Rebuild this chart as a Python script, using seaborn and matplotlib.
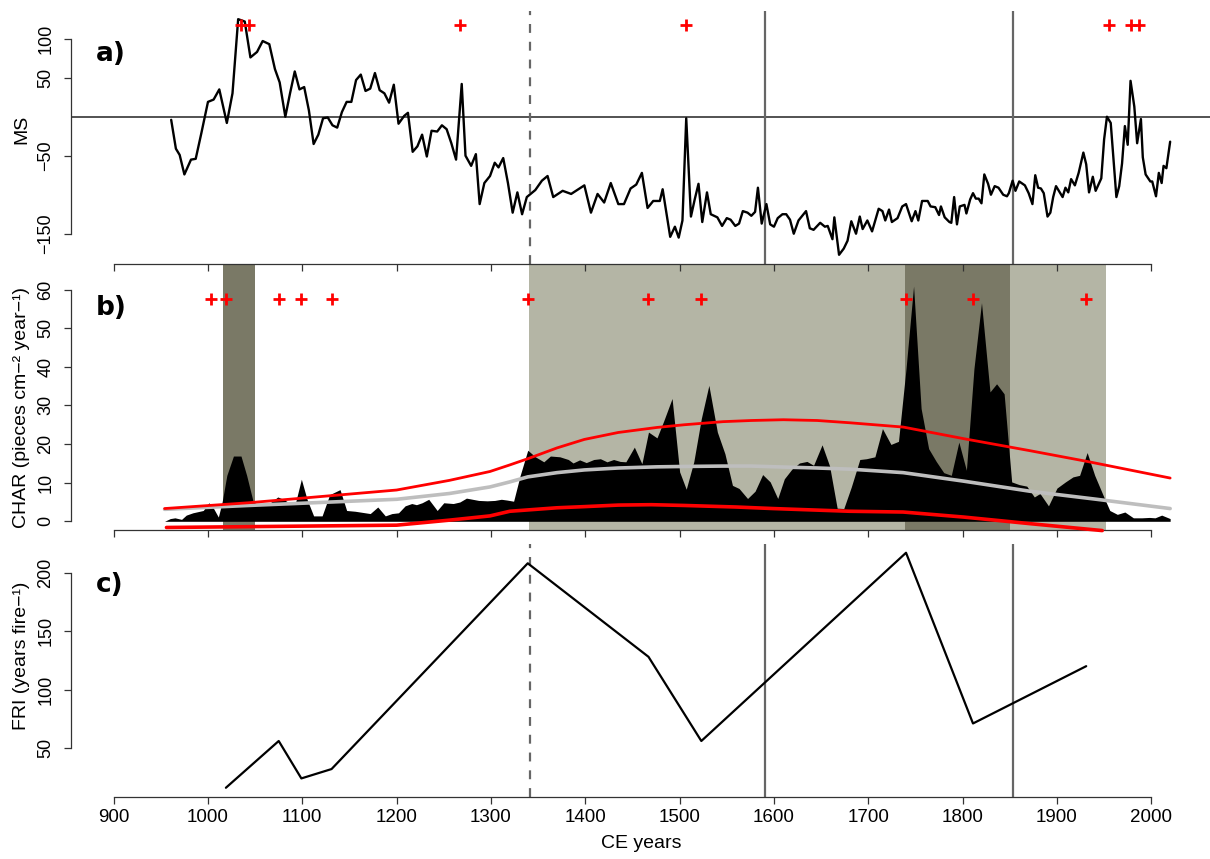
import numpy as np
import matplotlib
matplotlib.use("Agg")
import matplotlib.pyplot as plt
import seaborn as sns

# ---- panel a: magnetic susceptibility (MS) ----
ms_year = [961, 966, 970, 975, 982, 987, 993, 1000, 1006, 1012, 1020, 1026, 1032, 1039, 1045,
           1052, 1058, 1065, 1071, 1076, 1082, 1087, 1092, 1097, 1102, 1107, 1112, 1117, 1122,
           1127, 1132, 1137, 1142, 1147, 1152, 1157, 1162, 1167, 1172, 1177, 1182, 1187, 1192,
           1197, 1202, 1208, 1212, 1217, 1222, 1227, 1232, 1237, 1243, 1248, 1253, 1258, 1263,
           1269, 1273, 1279, 1284, 1288, 1293, 1299, 1304, 1308, 1313, 1318, 1323, 1328, 1333,
           1338, 1341, 1347, 1354, 1360, 1366, 1376, 1385, 1399, 1406, 1413, 1420, 1427, 1435,
           1441, 1448, 1454, 1460, 1466, 1472, 1479, 1482, 1490, 1495, 1499, 1503, 1507, 1512,
           1516, 1520, 1524, 1529, 1533, 1540, 1545, 1550, 1554, 1559, 1563, 1567, 1572, 1576,
           1580, 1583, 1587, 1592, 1596, 1600, 1604, 1609, 1613, 1617, 1621, 1626, 1634, 1638,
           1642, 1649, 1654, 1657, 1662, 1664, 1669, 1674, 1678, 1682, 1687, 1691, 1694, 1699,
           1704, 1711, 1715, 1718, 1722, 1725, 1731, 1736, 1740, 1746, 1750, 1753, 1757, 1763,
           1766, 1771, 1775, 1777, 1781, 1786, 1788, 1791, 1794, 1797, 1802, 1804, 1808, 1811,
           1814, 1817, 1820, 1823, 1827, 1830, 1834, 1838, 1843, 1847, 1849, 1853, 1856, 1860,
           1866, 1870, 1874, 1877, 1880, 1883, 1886, 1890, 1893, 1896, 1899, 1903, 1906, 1909,
           1912, 1915, 1919, 1923, 1928, 1931, 1934, 1938, 1941, 1947, 1950, 1953, 1957, 1963,
           1966, 1969, 1972, 1975, 1978, 1982, 1985, 1989, 1991, 1994, 1999, 2001, 2005, 2008,
           2011, 2013, 2016, 2020]
ms_val = [-4, -41, -49, -74, -55, -54, -21, 19, 22, 35, -8, 30, 125, 122, 76,
          83, 97, 93, 61, 44, 0, 30, 58, 35, 38, 8, -35, -23, -2,
          -1, -11, -14, 6, 19, 19, 47, 54, 33, 36, 56, 34, 30, 18,
          41, -9, 1, 5, -45, -38, -23, -51, -18, -19, -11, -16, -34, -55,
          42, -50, -63, -48, -112, -85, -76, -59, -65, -53, -85, -123, -97, -125,
          -103, -100, -94, -82, -76, -103, -95, -99, -88, -123, -99, -110, -85, -112,
          -112, -92, -87, -72, -117, -108, -108, -93, -154, -141, -155, -133, -2, -128,
          -106, -86, -135, -97, -125, -129, -140, -130, -132, -140, -137, -121, -123, -127,
          -122, -91, -137, -112, -138, -141, -130, -125, -125, -132, -150, -133, -121, -143,
          -145, -136, -141, -140, -157, -129, -177, -169, -159, -134, -150, -128, -144, -133,
          -147, -118, -121, -133, -119, -135, -130, -115, -112, -134, -121, -133, -108, -108,
          -115, -116, -126, -115, -129, -135, -136, -103, -138, -115, -113, -124, -106, -98,
          -105, -105, -111, -74, -86, -100, -89, -91, -100, -102, -98, -82, -95, -83,
          -88, -98, -112, -75, -91, -92, -98, -128, -123, -103, -89, -97, -103, -91,
          -97, -80, -88, -72, -46, -61, -97, -77, -95, -79, -29, 0, -8, -103,
          -89, -60, -12, -36, 46, 13, -34, -3, -52, -74, -83, -83, -102, -72,
          -85, -63, -66, -32]
ms_peaks = [1035, 1043, 1267, 1507, 1955, 1978, 1987]

# ---- panel b: charcoal accumulation rate (CHAR) ----
char_year = [954, 960, 965, 972, 977, 984, 995, 1001, 1006, 1011, 1015, 1020, 1027, 1035, 1041,
             1048, 1055, 1066, 1074, 1080, 1086, 1093, 1099, 1105, 1112, 1121, 1129, 1140, 1147,
             1156, 1172, 1180, 1188, 1195, 1202, 1209, 1216, 1221, 1227, 1234, 1243, 1250, 1260,
             1267, 1274, 1287, 1296, 1304, 1311, 1317, 1324, 1331, 1339, 1347, 1356, 1363, 1373,
             1382, 1387, 1394, 1401, 1409, 1416, 1423, 1430, 1437, 1443, 1452, 1460, 1467, 1476,
             1483, 1492, 1500, 1507, 1515, 1523, 1531, 1540, 1548, 1556, 1563, 1572, 1580, 1588,
             1596, 1604, 1611, 1619, 1627, 1635, 1642, 1651, 1659, 1667, 1674, 1682, 1691, 1698,
             1707, 1715, 1724, 1732, 1740, 1748, 1756, 1764, 1772, 1780, 1788, 1796, 1804, 1812,
             1820, 1829, 1836, 1844, 1852, 1860, 1868, 1876, 1882, 1891, 1900, 1909, 1917, 1924,
             1932, 1940, 1949, 1956, 1964, 1972, 1981, 1990, 1998, 2004, 2011, 2020]
char_val = [0, 0.7, 0.9, 0.5, 1.6, 2.2, 2.8, 4.8, 3.3, 1.1, 5, 11.9, 16.9, 16.9, 11.9,
            5, 4.1, 4.8, 6.3, 5.7, 4.8, 5, 10.9, 5.7, 1.4, 1.4, 6.9, 8.2, 2.8,
            2.6, 2, 3.7, 1.4, 2, 2.2, 4, 4.6, 4.3, 4.8, 5.7, 2.8, 4.8, 4.6,
            5, 6, 5.4, 5.3, 5.4, 5.7, 5.5, 5.2, 11.9, 18.4, 16.7, 15.4, 16.9, 16.7,
            16, 15.1, 15.9, 15.2, 16, 16.2, 15.4, 16, 15.5, 15.4, 19.2, 14.9, 23.1, 21.6,
            25.9, 31.8, 12.8, 8.3, 15.4, 26.6, 35.2, 23.1, 17.5, 9.3, 8.5, 5.9, 7.8, 12.1,
            10.2, 5.9, 11, 13.5, 15.1, 15.5, 14.5, 19.8, 14.3, 3.4, 3.3, 8.9, 16, 16.2,
            16.7, 24, 19.9, 20.7, 39.5, 60.9, 29.2, 18.8, 15.5, 12.6, 11.9, 20.5, 13.2, 39.5,
            56.6, 33.5, 35.6, 33, 10.2, 9.5, 9.1, 6.3, 7.2, 4, 8.6, 10.2, 11.5, 11.9,
            17.8, 11.9, 6.7, 2.8, 1.8, 2.4, 0.9, 0.9, 1, 0.9, 1.6, 0.7]

bkg_year = [954, 1043, 1200, 1256, 1299, 1320, 1339, 1370, 1399, 1435, 1476, 1505, 1546, 1576,
            1617, 1646, 1681, 1737, 1801, 1871, 1942, 2020]
bkg_val = [3.1, 4.1, 5.7, 7.2, 8.9, 10.2, 11.5, 12.6, 13.3, 13.8, 14.1, 14.2, 14.3, 14.3,
           14.0, 13.8, 13.5, 12.6, 10.4, 7.8, 5.7, 3.3]
upper_year = [954, 1043, 1200, 1256, 1299, 1320, 1339, 1370, 1399, 1435, 1476, 1505, 1546,
              1576, 1610, 1646, 1681, 1737, 1801, 1871, 1932, 2020]
upper_val = [3.3, 4.8, 8.1, 10.6, 12.9, 14.6, 16.2, 19.0, 21.2, 23.0, 24.3, 25.0, 25.8,
             26.1, 26.3, 26.1, 25.5, 24.4, 21.4, 18.3, 15.5, 11.2]
lower_year = [956, 1200, 1256, 1299, 1320, 1370, 1399, 1435, 1470, 1505, 1560, 1599, 1680,
              1737, 1801, 1871, 1948]
lower_val = [-1.6, -1.0, 0.3, 1.4, 2.6, 3.5, 3.8, 4.2, 4.3, 4.1, 3.7, 3.3, 2.6,
             2.4, 1.1, -0.6, -2.4]

fire_years = [1003, 1019, 1075, 1099, 1131, 1339, 1467, 1523, 1740, 1811, 1931]
dark_periods = [(1016, 1050), (1739, 1850)]
light_period = (1340, 1952)

# ---- panel c: fire return interval (FRI) ----
fri_year = [1019, 1075, 1099, 1131, 1339, 1467, 1523, 1740, 1811, 1931]
fri_val = [16, 56, 24, 32, 208, 128, 56, 217, 71, 120]

dashed_year = 1341
solid_years = [1590, 1853]

# ---------------------------------------------------------------
sns.set_theme(style="white")
plt.rcParams["font.family"] = ["Liberation Sans", "DejaVu Sans"]
plt.rcParams["text.color"] = "black"

AXC = "#333333"
XLIM = (854.8, 2063.3)
fig = plt.figure(figsize=(12.1, 8.59), dpi=100)

ax_a = fig.add_axes([71 / 1210, 1 - 264 / 859, 1140 / 1210, 253 / 859])
ax_b = fig.add_axes([71 / 1210, 1 - 530.3 / 859, 1140 / 1210, 266.3 / 859])
ax_c = fig.add_axes([71 / 1210, 1 - 797 / 859, 1140 / 1210, 253 / 859])
ax_a.set_zorder(3)
ax_a.set_facecolor("none")
ax_b.set_zorder(2)


def style(ax, ylim, yticks, ylabels, bounds, xlabels=False):
    ax.set_xlim(XLIM)
    ax.set_ylim(ylim)
    for s in ["top", "right"]:
        ax.spines[s].set_visible(False)
    for s in ["bottom", "left"]:
        ax.spines[s].set_color(AXC)
        ax.spines[s].set_linewidth(0.9)
    ax.spines["bottom"].set_bounds(900, 2000)
    ax.spines["left"].set_bounds(*bounds)
    ax.set_xticks(range(900, 2001, 100))
    if xlabels:
        ax.set_xticklabels([str(v) for v in range(900, 2001, 100)])
    else:
        ax.set_xticklabels([])
    ax.set_yticks(yticks)
    ax.set_yticklabels(ylabels, rotation=90, va="center", ha="right")
    ax.tick_params(axis="both", direction="out", length=5, width=0.9, color=AXC,
                   bottom=True, left=True)
    ax.tick_params(axis="x", labelsize=13.5, pad=4, labelcolor="black")
    ax.tick_params(axis="y", labelsize=13, pad=7, labelcolor="black")
    ax.set_xlabel("")
    ax.set_ylabel("")


# panel a
ax_a.axhline(0, color="#444444", lw=1.3, zorder=1)
ax_a.axvline(dashed_year, color="#666666", lw=1.6, ls=(0, (4, 4)), zorder=1)
for yr in solid_years:
    ax_a.axvline(yr, color="#666666", lw=1.6, zorder=1)
sns.lineplot(x=ms_year, y=ms_val, ax=ax_a, color="black", lw=1.7,
             estimator=None, sort=False, zorder=3)
ax_a.plot(ms_peaks, np.full(len(ms_peaks), 117.6), ls="none", marker="+",
          color="red", ms=9, mew=2, zorder=4)
style(ax_a, (-188.8, 135.5), [-150, -50, 50, 100],
      ["\u2212150", "\u221250", "50", "100"], (-150, 100))

# panel b
ax_b.axvspan(*light_period, color="#b4b5a5", lw=0, zorder=0)
for p in dark_periods:
    ax_b.axvspan(*p, color="#7a7966", lw=0, zorder=0)
ax_b.fill_between(char_year, char_val, 0, color="black", lw=0, zorder=1)
sns.lineplot(x=bkg_year, y=bkg_val, ax=ax_b, color="#bebebe", lw=2.6,
             estimator=None, sort=False, zorder=2)
sns.lineplot(x=upper_year, y=upper_val, ax=ax_b, color="red", lw=2.0,
             estimator=None, sort=False, zorder=3)
sns.lineplot(x=lower_year, y=lower_val, ax=ax_b, color="red", lw=2.6,
             estimator=None, sort=False, zorder=3)
for ln in ax_b.get_lines():
    ln.set_clip_on(False)
ax_b.plot(fire_years, np.full(len(fire_years), 57.6), ls="none", marker="+",
          color="red", ms=9, mew=2, zorder=4)
style(ax_b, (-2.33, 66.62), list(range(0, 61, 10)),
      [str(v) for v in range(0, 61, 10)], (0, 60))

# panel c
ax_c.axvline(dashed_year, color="#666666", lw=1.6, ls=(0, (4, 4)), zorder=1)
for yr in solid_years:
    ax_c.axvline(yr, color="#666666", lw=1.6, zorder=1)
sns.lineplot(x=fri_year, y=fri_val, ax=ax_c, color="black", lw=1.6,
             estimator=None, sort=False, zorder=3)
style(ax_c, (8.1, 224.5), [50, 100, 150, 200], ["50", "100", "150", "200"],
      (50, 200), xlabels=True)

# panel letters
for ax, lab, yf in [(ax_a, "a)", 0.83), (ax_b, "b)", 0.835), (ax_c, "c)", 0.838)]:
    ax.text(0.022, yf, lab, transform=ax.transAxes, fontsize=19, fontweight="bold",
            ha="left", va="center", color="black", family=["DejaVu Sans"])

# axis titles
fig.text(22 / 1210, 1 - 129 / 859, "MS", rotation=90, ha="center", va="center",
         fontsize=14, color="black")
fig.text(22 / 1210, 1 - 407 / 859, "CHAR (pieces cm\u2212\u00b2 year\u2212\u00b9)", rotation=90,
         ha="center", va="center", fontsize=14, color="black")
fig.text(22 / 1210, 1 - 656 / 859, "FRI (years fire\u2212\u00b9)", rotation=90,
         ha="center", va="center", fontsize=14, color="black")
fig.text(641 / 1210, 1 - 843 / 859, "CE years", ha="center", va="center",
         fontsize=14, color="black")

fig.savefig("out.png", dpi=100, facecolor="white")
